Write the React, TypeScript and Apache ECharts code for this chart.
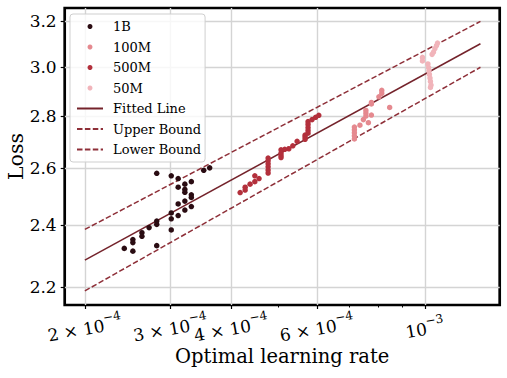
import React, { useEffect, useRef } from 'react';
import * as echarts from 'echarts';

// ---- axes ----
const xRange = [1.818e-4, 1.424e-3];
const yRange = [2.145, 3.259];
const xTickValues = [2e-4, 3e-4, 4e-4, 6e-4, 1e-3];
const xTickMantissas = ['2', '3', '4', '6', ''];
const xTickExponents = ['−4', '−4', '−4', '−4', '−3'];
const xMinorTickValues = [5e-4, 7e-4, 8e-4, 9e-4];
const yTickValues = [2.2, 2.4, 2.6, 2.8, 3.0, 3.2];
const yTickLabels = ['2.2', '2.4', '2.6', '2.8', '3.0', '3.2'];
const xAxisTitle = 'Optimal learning rate';
const yAxisTitle = 'Loss';

// ---- series ----
const lr1B = [2.41e-4, 2.51e-4, 2.51e-4, 2.51e-4, 2.62e-4, 2.62e-4, 2.71e-4, 2.81e-4, 2.81e-4, 2.81e-4, 2.81e-4,
  3.01e-4, 3.01e-4, 3.01e-4, 3.01e-4, 3.11e-4, 3.11e-4, 3.11e-4, 3.11e-4, 3.21e-4, 3.21e-4, 3.21e-4, 3.21e-4, 3.21e-4,
  3.31e-4, 3.31e-4, 3.31e-4, 3.31e-4, 3.51e-4, 3.61e-4];
const loss1B = [2.323, 2.352, 2.342, 2.314, 2.375, 2.363, 2.392, 2.414, 2.403, 2.332, 2.582,
  2.573, 2.442, 2.422, 2.384, 2.563, 2.532, 2.473, 2.433, 2.543, 2.524, 2.514, 2.483, 2.452,
  2.552, 2.505, 2.496, 2.464, 2.593, 2.602];

const lr100M = [7.16e-4, 7.16e-4, 7.16e-4, 7.16e-4, 7.16e-4, 7.35e-4, 7.47e-4, 7.56e-4, 7.56e-4, 7.56e-4,
  7.65e-4, 7.76e-4, 7.76e-4, 7.76e-4, 8.04e-4, 8.15e-4, 8.15e-4, 8.46e-4];
const loss100M = [2.756, 2.745, 2.734, 2.722, 2.710, 2.763, 2.785, 2.799, 2.810, 2.821,
  2.773, 2.803, 2.847, 2.853, 2.876, 2.890, 2.902, 2.833];

const lr500M = [4.17e-4, 4.27e-4, 4.27e-4, 4.37e-4, 4.47e-4, 4.47e-4, 4.56e-4,
  4.76e-4, 4.76e-4, 4.76e-4, 4.76e-4, 4.76e-4, 4.76e-4,
  5.06e-4, 5.06e-4, 5.06e-4, 5.06e-4, 5.15e-4, 5.25e-4, 5.35e-4, 5.46e-4,
  5.67e-4, 5.67e-4, 5.67e-4, 5.75e-4, 5.75e-4, 5.75e-4, 5.75e-4, 5.75e-4,
  5.86e-4, 5.96e-4, 6.05e-4];
const loss500M = [2.513, 2.532, 2.522, 2.543, 2.573, 2.552, 2.563,
  2.638, 2.628, 2.617, 2.606, 2.594, 2.583,
  2.669, 2.657, 2.648, 2.640, 2.671, 2.673, 2.684, 2.701,
  2.725, 2.718, 2.709, 2.777, 2.766, 2.754, 2.743, 2.732,
  2.785, 2.794, 2.802];

const lr50M = [0.988e-3, 0.988e-3, 1.014e-3, 1.017e-3, 1.019e-3, 1.021e-3, 1.024e-3, 1.026e-3, 1.029e-3, 1.026e-3,
  1.034e-3, 1.041e-3, 1.048e-3, 1.056e-3, 1.061e-3];
const loss50M = [3.025, 3.040, 3.012, 2.997, 2.983, 2.968, 2.953, 2.939, 2.924, 2.914,
  3.053, 3.063, 3.078, 3.091, 3.102];

const fitLr = [2e-4, 1.3e-3];
const fitLoss = [2.285, 3.099];
const upperLoss = [2.386, 3.198];
const lowerLoss = [2.188, 2.998];

const seriesNames = ['1B', '100M', '500M', '50M', 'Fitted Line', 'Upper Bound', 'Lower Bound'];
const scatterColors = ['#2a0c12', '#e5898f', '#b3303c', '#f1b4ba'];

const L = (v: number) => Math.log10(v);
const nearest = (arr: number[], v: number) => {
  let best = 0;
  arr.forEach((a, i) => { if (Math.abs(L(a) - v) < Math.abs(L(arr[best]) - v)) best = i; });
  return best;
};
const pts = (xs: number[], ys: number[]) => xs.map((x, i) => [L(x), L(ys[i])]);

const FONT = 'DejaVu Serif';
const MAIN_FONT = `17px "${FONT}"`;
const SUP_FONT = `12px "${FONT}"`;

let measureCtx: CanvasRenderingContext2D | null = null;
const measure = (text: string, font: string) => {
  if (!measureCtx) measureCtx = document.createElement('canvas').getContext('2d');
  if (!measureCtx) return text.length * 9;
  measureCtx.font = font;
  return measureCtx.measureText(text).width;
};

export default function App() {
  const ref = useRef<HTMLDivElement>(null);
  useEffect(() => {
    document.body.style.margin = '0';
    const chart = echarts.init(ref.current!, null, { renderer: 'svg' });
    const scatterSets = [[lr1B, loss1B], [lr100M, loss100M], [lr500M, loss500M], [lr50M, loss50M]];
    const series: any[] = scatterSets.map((s, i) => ({
      name: seriesNames[i],
      type: 'scatter',
      data: pts(s[0], s[1]),
      symbolSize: 5.5,
      itemStyle: { color: scatterColors[i], opacity: 1 },
      z: 3,
    }));
    const lineDefs = [
      { name: seriesNames[4], ys: fitLoss, color: '#74232b', type: 'solid' },
      { name: seriesNames[5], ys: upperLoss, color: '#8e2f38', type: [5.5, 2.4] },
      { name: seriesNames[6], ys: lowerLoss, color: '#8e2f38', type: [5.5, 2.4] },
    ];
    lineDefs.forEach((d) => {
      series.push({
        name: d.name,
        type: 'line',
        data: pts(fitLr, d.ys),
        symbol: 'none',
        lineStyle: { color: d.color, width: 1.5, type: d.type },
        itemStyle: { color: d.color },
        z: 2,
      });
    });

    chart.setOption({
      animation: false,
      grid: {
        left: 64.7, right: 7.3, top: 8, bottom: 73,
        show: true, borderColor: '#000', borderWidth: 2.7, backgroundColor: 'transparent',
      },
      xAxis: [
        {
          type: 'value', min: L(xRange[0]), max: L(xRange[1]),
          axisLine: { show: false },
          axisTick: { show: true, inside: false, length: 4, lineStyle: { color: '#000', width: 1.2 },
            customValues: xTickValues.map(L) },
          splitLine: { show: true, lineStyle: { color: '#d4d4d4', width: 1.4 } },
          axisLabel: { show: false },
          name: xAxisTitle, nameLocation: 'middle', nameGap: 41, nameMoveOverlap: false,
          nameTextStyle: { fontFamily: FONT, fontSize: 19.5, color: '#000' },
        },
        {
          type: 'value', min: L(xRange[0]), max: L(xRange[1]), position: 'bottom',
          axisLine: { show: false },
          axisTick: { show: true, inside: false, length: 2.5, lineStyle: { color: '#000', width: 1 },
            customValues: xMinorTickValues.map(L) },
          splitLine: { show: false },
          axisLabel: { show: false },
        },
      ],
      yAxis: {
        type: 'value', min: L(yRange[0]), max: L(yRange[1]),
        axisLine: { show: false },
        axisTick: { show: true, inside: false, length: 4, lineStyle: { color: '#000', width: 1.2 },
          customValues: yTickValues.map(L) },
        splitLine: { show: true, lineStyle: { color: '#d4d4d4', width: 1.4 } },
        axisLabel: {
          customValues: yTickValues.map(L), margin: 8,
          fontFamily: FONT, fontSize: 17, color: '#000',
          formatter: (v: number) => yTickLabels[nearest(yTickValues, v)],
        },
      },
      legend: {
        orient: 'vertical', left: 70, top: 14,
        padding: [6, 4, 6, 6],
        itemWidth: 26, itemHeight: 5, itemGap: 7.5,
        backgroundColor: 'rgba(255,255,255,0.8)',
        borderColor: '#cfcfcf', borderWidth: 1, borderRadius: 3,
        textStyle: { fontFamily: FONT, fontSize: 13, color: '#000', padding: [0, 0, 0, 5] },
        data: seriesNames.map((n, i) => (i < 4 ? n : { name: n, itemStyle: { opacity: 0 } })),
      },
      series,
    });

    // rotated x tick labels (mantissa × 10 with superscript exponent), anchored through the axis scale
    const rot = (10 * Math.PI) / 180;
    const graphics: any[] = xTickValues.map((v, i) => {
      const p = chart.convertToPixel({ xAxisIndex: 0, yAxisIndex: 0 }, [L(v), L(yRange[0])]) as number[];
      const m = xTickMantissas[i];
      const main = m ? `${m} × 10` : '10';
      const sup = xTickExponents[i];
      const wm = measure(main, MAIN_FONT);
      const ws = measure(sup, SUP_FONT);
      const w = wm + ws;
      return {
        type: 'group',
        x: p[0],
        y: p[1] + 24,
        rotation: rot,
        silent: true,
        children: [
          {
            type: 'text', x: -w / 2, y: 0,
            style: { text: main, font: MAIN_FONT, fill: '#000', align: 'left', verticalAlign: 'middle',
              textAlign: 'left', textVerticalAlign: 'middle' },
          },
          {
            type: 'text', x: -w / 2 + wm, y: -7.5,
            style: { text: sup, font: SUP_FONT, fill: '#000', align: 'left', verticalAlign: 'middle',
              textAlign: 'left', textVerticalAlign: 'middle' },
          },
        ],
      };
    });
    // y axis title, centred on the plot's vertical middle
    const yMid = chart.convertToPixel({ xAxisIndex: 0, yAxisIndex: 0 },
      [L(xRange[0]), (L(yRange[0]) + L(yRange[1])) / 2]) as number[];
    graphics.push({
      type: 'text', x: yMid[0] - 48.5, y: yMid[1], rotation: Math.PI / 2, silent: true,
      style: { text: yAxisTitle, font: `20.5px "${FONT}"`, fill: '#000', align: 'center', verticalAlign: 'middle',
        textAlign: 'center', textVerticalAlign: 'middle' },
    });
    chart.setOption({ graphic: graphics });
    return () => chart.dispose();
  }, []);
  return <div ref={ref} style={{ width: 507, height: 378 }} />;
}
